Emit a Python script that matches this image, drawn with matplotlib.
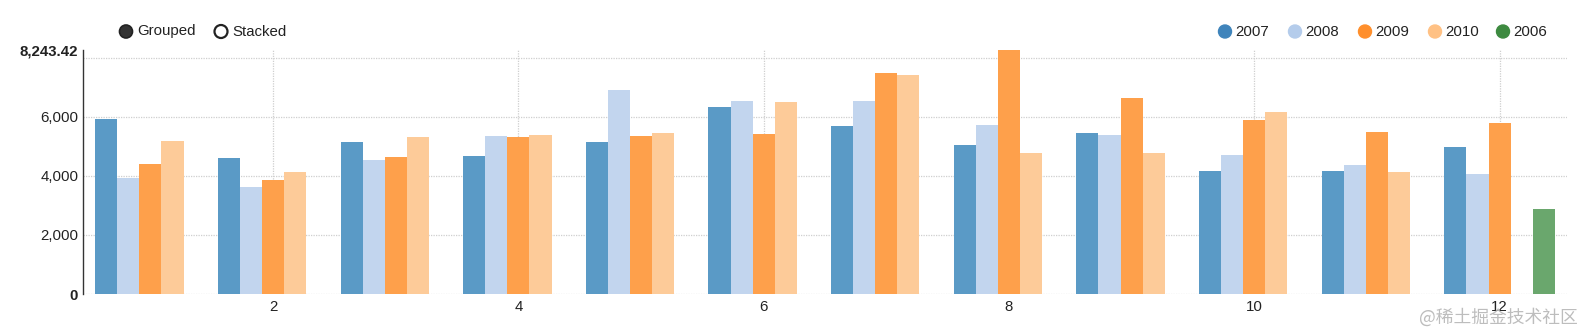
import matplotlib
matplotlib.use("Agg")
import matplotlib.pyplot as plt
from matplotlib.patches import Circle
import numpy as np

plt.rcParams['font.family'] = ['Liberation Sans', 'DejaVu Sans']

# ---------------- DATA ----------------
months = [1, 2, 3, 4, 5, 6, 7, 8, 9, 10, 11, 12]
series_names = ["2007", "2008", "2009", "2010", "2006"]

v2007 = [5922, 4592, 5133, 4680, 5154, 6318, 5685, 5032, 5438, 4173, 4173, 4964]
v2008 = [3915, 3631, 4535, 5357, 6903, 6541, 6541, 5709, 5391, 4704, 4365, 4061]
v2009 = [4399, 3858, 4646, 5303, 5337, 5414, 7489, 8243.42, 6643, 5878, 5482, 5787]
v2010 = [5188, 4139, 5323, 5381, 5459, 6497, 7411, 4782, 4761, 6169, 4139, None]
v2006 = [None, None, None, None, None, None, None, None, None, None, None, 2887]

series_values = [v2007, v2008, v2009, v2010, v2006]

y_ticks = [0, 2000, 4000, 6000]
y_max = max(v for s in series_values for v in s if v is not None)
x_ticks = [2, 4, 6, 8, 10, 12]

bar_colors = ["#5a9ac6", "#c2d5ee", "#fea04b", "#fdcb99", "#6aa76d"]
legend_colors = ["#3f84bb", "#b4cceb", "#ff8f2c", "#ffc184", "#3d8a40"]

TXT = "#222222"
GRID = "#cfcfcf"
FS = 10.8

# ---------------- FIGURE ----------------
fig = plt.figure(figsize=(15.86, 3.32), dpi=100)
ax = fig.add_axes([83 / 1586, 1 - 294 / 332, (1567 - 83) / 1586, (294 - 50.4) / 332])

n = len(series_names)
band = 0.9
slot = band / n
x = np.array(months, dtype=float)

for i, (name, vals) in enumerate(zip(series_names, series_values)):
    xs = [xi - band / 2 + slot * (i + 0.5) for xi, v in zip(x, vals) if v is not None]
    hs = [v for v in vals if v is not None]
    ax.bar(xs, hs, width=slot, color=bar_colors[i], linewidth=0, zorder=3)

# dotted grid
for g in y_ticks + [8000]:
    ax.axhline(g, color=GRID, linestyle=(0, (1, 1)), linewidth=0.9, zorder=1)
for t in x_ticks:
    ax.axvline(t, color=GRID, linestyle=(0, (1, 1)), linewidth=0.9, zorder=1)

ax.set_xlim(months[0] - 0.55, months[-1] + 0.55)
ax.set_ylim(0, y_max)

ax.set_xticks(x_ticks)
ax.set_xticklabels([str(t) for t in x_ticks])
ax.set_yticks(y_ticks + [y_max])
ax.set_yticklabels([f"{t:,}" for t in y_ticks] + [f"{y_max:,.2f}"])
ax.tick_params(axis='both', length=0, labelsize=FS, colors=TXT)
ax.tick_params(axis='y', pad=3.5)
ax.tick_params(axis='x', pad=4.5)
ylabels = ax.get_yticklabels()
ylabels[0].set_fontweight('bold')
ylabels[-1].set_fontweight('bold')

for s in ['top', 'right', 'bottom']:
    ax.spines[s].set_visible(False)
ax.spines['left'].set_color('#333333')
ax.spines['left'].set_linewidth(1.0)

# ---------------- LEGENDS (pixel overlay) ----------------
lg = fig.add_axes([0, 0, 1, 1], zorder=5)
lg.set_xlim(0, 1586)
lg.set_ylim(332, 0)
lg.axis('off')

ly = 31.5
r = 6.5

# Grouped / Stacked switch
lg.add_patch(Circle((126, ly), r, facecolor="#333333", edgecolor="#222222", linewidth=1.2))
lg.text(137, ly, "Grouped", fontsize=FS, color=TXT, va='center', ha='left')
lg.add_patch(Circle((221, ly), r, facecolor="white", edgecolor="#222222", linewidth=1.6))
lg.text(232, ly, "Stacked", fontsize=FS, color=TXT, va='center', ha='left')

# series legend
legend_x = [1225, 1295, 1365, 1435, 1503]
for lx, name, c in zip(legend_x, series_names, legend_colors):
    lg.add_patch(Circle((lx, ly), r, facecolor=c, edgecolor=c, linewidth=1.0))
    lg.text(lx + 10.5, ly, name, fontsize=FS, color=TXT, va='center', ha='left')

# watermark
fig.text(1578 / 1586, 1 - 317 / 332, "@稀土掘金技术社区", fontsize=12.8,
         color="#bdbdbd", ha='right', va='center',
         family=['Noto Sans CJK SC', 'DejaVu Sans'])

fig.savefig("out.png", dpi=100)
